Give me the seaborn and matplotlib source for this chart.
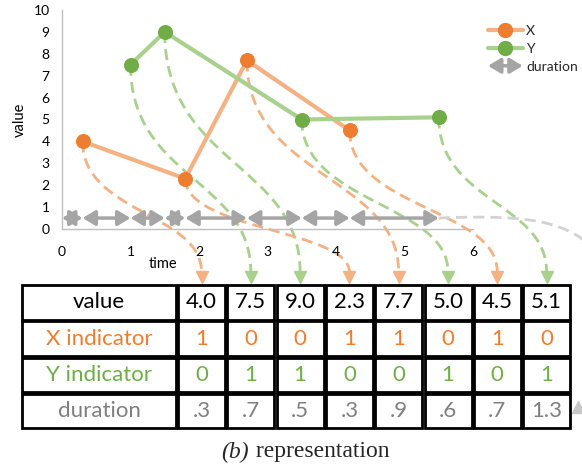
import numpy as np
import pandas as pd
import matplotlib
matplotlib.use("Agg")
import matplotlib.pyplot as plt
import seaborn as sns
from matplotlib.patches import Rectangle, FancyArrowPatch, PathPatch
from matplotlib.path import Path
from matplotlib.lines import Line2D
from matplotlib.legend_handler import HandlerBase

# data
x_time = [0.3, 1.8, 2.7, 4.2]
x_value = [4.0, 2.3, 7.7, 4.5]
y_time = [1.0, 1.5, 3.5, 5.5]
y_value = [7.5, 9.0, 5.0, 5.1]

row_names = ["value", "X indicator", "Y indicator", "duration"]
table_value = ["4.0", "7.5", "9.0", "2.3", "7.7", "5.0", "4.5", "5.1"]
x_indicator = ["1", "0", "0", "1", "1", "0", "1", "0"]
y_indicator = ["0", "1", "1", "0", "0", "1", "0", "1"]
duration = [".3", ".7", ".5", ".3", ".9", ".6", ".7", "1.3"]
dur_level = 0.5

orange = "#ED7D31"
orange_l = "#F4B183"
green = "#70AD47"
green_l = "#A9D18E"
gray = "#A5A5A5"
gray_t = "#7F7F7F"
arrow_style = '<|-|>,head_length=0.75,head_width=0.45'

sns.set_theme(style="white")
plt.rcParams['font.family'] = ['Lato', 'DejaVu Sans']

W, H = 582, 468
fig = plt.figure(figsize=(W / 100, H / 100), dpi=100)


def fbox(l, t, r, b):
    return [l / W, 1 - b / H, (r - l) / W, (b - t) / H]


over = fig.add_axes([0, 0, 1, 1])
over.set_xlim(0, W)
over.set_ylim(H, 0)
over.axis('off')
over.set_zorder(0)

ax = fig.add_axes(fbox(62, 10, 473, 229))
ax.set_zorder(1)
ax.patch.set_alpha(0)

events = pd.DataFrame({"series": ["X"] * len(x_time) + ["Y"] * len(y_time),
                       "time": x_time + y_time,
                       "value": x_value + y_value})
events = events.sort_values("time").reset_index(drop=True)

# duration arrows
starts = [0.0] + list(events["time"][:-1])
for t0, t1 in zip(starts, events["time"]):
    ax.annotate('', xy=(t1, dur_level), xytext=(t0, dur_level),
                arrowprops=dict(arrowstyle=arrow_style, color=gray, lw=2.5,
                                shrinkA=0, shrinkB=0, mutation_scale=10),
                zorder=2)

sns.lineplot(x=x_time, y=x_value, color=orange_l, lw=3, ax=ax, zorder=3)
sns.lineplot(x=y_time, y=y_value, color=green_l, lw=3, ax=ax, zorder=3)
sns.scatterplot(x=x_time, y=x_value, color=orange, edgecolor=orange, s=100,
                ax=ax, zorder=4)
sns.scatterplot(x=y_time, y=y_value, color=green, edgecolor=green, s=100,
                ax=ax, zorder=4)

ax.set_xlim(0, 6)
ax.set_ylim(0, 10)
ax.set_xticks(range(7))
ax.set_yticks(range(11))
ax.tick_params(axis='both', length=0, labelsize=10, labelcolor='black')
ax.tick_params(axis='x', pad=12)
ax.tick_params(axis='y', pad=9)
for s in ["top", "right"]:
    ax.spines[s].set_visible(False)
for s in ["left", "bottom"]:
    ax.spines[s].set_color("#BFBFBF")
    ax.spines[s].set_linewidth(1)
ax.set_xlabel("time", fontsize=10.5, color='black')
ax.xaxis.set_label_coords(0.246, -0.13)
ax.set_ylabel("value", fontsize=10.5, color='black')
ax.yaxis.set_label_coords(-0.086, 0.5)


# legend
class HandlerDuration(HandlerBase):
    def create_artists(self, legend, orig_handle, xdescent, ydescent,
                       width, height, fontsize, trans):
        y = -ydescent + height / 2
        a = FancyArrowPatch((-xdescent, y), (width - xdescent, y),
                            arrowstyle=arrow_style, mutation_scale=10,
                            color=gray, lw=2.5, shrinkA=0, shrinkB=0,
                            transform=trans)
        return [a]


hx = Line2D([], [], color=orange_l, lw=3, marker='o', ms=10,
            mfc=orange, mec=orange)
hy = Line2D([], [], color=green_l, lw=3, marker='o', ms=10,
            mfc=green, mec=green)
hd = FancyArrowPatch((0, 0), (1, 0), color=gray)
fig.legend([hx, hy, hd], ["X", "Y", "duration"], loc='upper left',
           bbox_to_anchor=(488 / W, 1 - 25 / H), frameon=False, fontsize=10,
           handlelength=2.5, handletextpad=0.25, labelspacing=0.42,
           borderpad=0, borderaxespad=0, handler_map={hd: HandlerDuration()})

# table geometry (pixels)
label_l, label_r = 22, 176
cell_l0, cell_pitch, cell_w = 178, 49.3, 47
row_t0, row_pitch, row_h = 285, 36.3, 34.5
arrow_y = 272

row_data = [table_value, x_indicator, y_indicator, duration]
row_colors = ["black", orange, green, gray_t]
for r, (name, vals, col) in enumerate(zip(row_names, row_data, row_colors)):
    top = row_t0 + r * row_pitch
    over.add_patch(Rectangle((label_l, top), label_r - label_l, row_h,
                             fill=False, ec='black', lw=2))
    over.text((label_l + label_r) / 2, top + row_h / 2, name, color=col,
              fontsize=16, ha='center', va='center')
    for c, v in enumerate(vals):
        left = cell_l0 + c * cell_pitch
        over.add_patch(Rectangle((left, top), cell_w, row_h, fill=False,
                                 ec='black', lw=2))
        over.text(left + cell_w / 2, top + row_h / 2, v, color=col,
                  fontsize=16, ha='center', va='center')

# dashed connectors from each point to its column
for i, ev in events.iterrows():
    dx, dy = ax.transData.transform((ev["time"], ev["value"]))
    px, py = dx, H - dy
    cx = cell_l0 + i * cell_pitch + cell_w / 2
    ymid = py + 0.55 * (arrow_y - py)
    col = orange_l if ev["series"] == "X" else green_l
    path = Path([(px, py), (px, ymid), (cx, ymid), (cx, arrow_y)],
                [Path.MOVETO, Path.CURVE4, Path.CURVE4, Path.CURVE4])
    over.add_patch(PathPatch(path, fill=False, ec=col, lw=2,
                             ls=(0, (4, 2.2))))
    over.plot(cx, arrow_y + 5, marker='v', ms=8, color=col, mec=col)

# last duration continues off to the right, back into the table
dx, dy = ax.transData.transform((events["time"].iloc[-1], dur_level))
sx, sy = dx, H - dy
path = Path([(sx, sy), (sx + 100, sy - 4), (sx + 140, sy + 4), (sx + 168, sy + 48)],
            [Path.MOVETO, Path.CURVE4, Path.CURVE4, Path.CURVE4])
over.add_patch(PathPatch(path, fill=False, ec="#D3D3D3", lw=2,
                         ls=(0, (4, 2.2)), clip_on=False))
over.plot(578, 407, marker='^', ms=8, color="#C8C8C8", mec="#C8C8C8")

# caption
over.text(249, 452, "(b)", fontsize=17, ha='right', va='center',
          family='Liberation Serif', style='italic')
over.text(250, 452, " representation", fontsize=17, ha='left', va='center',
          family='Liberation Serif')

fig.savefig("out.png", dpi=100)
